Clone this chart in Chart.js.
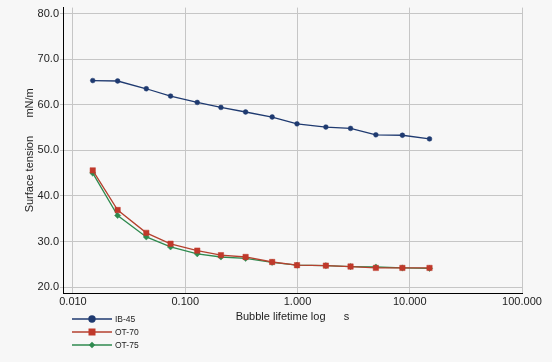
<!DOCTYPE html>
<html>
<head>
<meta charset="utf-8">
<script src="https://cdn.jsdelivr.net/npm/chart.js@4"></script>
<style>
  html, body { margin: 0; padding: 0; background: #f7f7f7; }
  #wrap { width: 552px; height: 362px; }
</style>
</head>
<body>
<div id="wrap"><canvas id="tensionChart" width="552" height="362"></canvas></div>
<script>
// Bubble lifetime (s) and surface tension (mN/m)
const lifetimes = [0.015, 0.025, 0.045, 0.074, 0.128, 0.208, 0.345, 0.595, 0.99, 1.79, 2.97, 4.99, 8.6, 15.0];
const ib45 = [65.3, 65.2, 63.5, 61.9, 60.5, 59.4, 58.4, 57.3, 55.8, 55.1, 54.8, 53.4, 53.3, 52.5];
const ot70 = [45.6, 36.9, 31.9, 29.5, 28.0, 27.0, 26.6, 25.5, 24.8, 24.7, 24.5, 24.2, 24.2, 24.2];
const ot75 = [45.0, 35.7, 31.0, 28.8, 27.3, 26.6, 26.3, 25.4, 24.8, 24.7, 24.5, 24.4, 24.2, 24.1];

const xTicks = [0.01, 0.1, 1, 10, 100];
const yTicks = [20, 30, 40, 50, 60, 70, 80];

const FONT = "'Liberation Sans', Arial, sans-serif";

function points(values) {
    return values.map((v, i) => ({ x: lifetimes[i], y: v }));
}

// legend drawn as a vertical list under the plot, like the original
const sideLegend = {
    id: 'sideLegend',
    afterDraw(chart) {
        const ctx = chart.ctx;
        ctx.save();
        chart.data.datasets.forEach((ds, i) => {
            const y = 319 + i * 13;
            ctx.strokeStyle = ds.borderColor;
            ctx.lineWidth = 1.5;
            ctx.beginPath();
            ctx.moveTo(72, y);
            ctx.lineTo(112, y);
            ctx.stroke();
            ctx.fillStyle = ds.pointBackgroundColor;
            ctx.beginPath();
            if (ds.pointStyle === 'circle') {
                ctx.arc(92, y, 3.7, 0, Math.PI * 2);
            } else if (ds.pointStyle === 'rect') {
                ctx.rect(88.5, y - 3.5, 7, 7);
            } else {
                ctx.moveTo(92, y - 3.2);
                ctx.lineTo(95.2, y);
                ctx.lineTo(92, y + 3.2);
                ctx.lineTo(88.8, y);
                ctx.closePath();
            }
            ctx.fill();
            ctx.fillStyle = '#222';
            ctx.font = '8.5px ' + FONT;
            ctx.textBaseline = 'middle';
            ctx.textAlign = 'left';
            ctx.fillText(ds.label, 115, y + 0.5);
        });
        ctx.restore();
    }
};

document.addEventListener('DOMContentLoaded', function() {
    const ctx = document.getElementById('tensionChart').getContext('2d');
    new Chart(ctx, {
        type: 'line',
        data: {
            datasets: [
                {
                    label: 'IB-45',
                    data: points(ib45),
                    borderColor: '#1f3a70',
                    backgroundColor: '#1f3a70',
                    pointBackgroundColor: '#1f3a70',
                    pointBorderColor: '#1f3a70',
                    pointStyle: 'circle',
                    pointRadius: 2.4,
                    pointBorderWidth: 0.5,
                    borderWidth: 1.3
                },
                {
                    label: 'OT-70',
                    data: points(ot70),
                    borderColor: '#b5412f',
                    backgroundColor: '#c0392b',
                    pointBackgroundColor: '#c0392b',
                    pointBorderColor: '#c0392b',
                    pointStyle: 'rect',
                    pointRadius: 3.8,
                    pointBorderWidth: 0.5,
                    borderWidth: 1.3
                },
                {
                    label: 'OT-75',
                    data: points(ot75),
                    borderColor: '#2f8a4f',
                    backgroundColor: '#2f8a4f',
                    pointBackgroundColor: '#2f8a4f',
                    pointBorderColor: '#2f8a4f',
                    pointStyle: 'rectRot',
                    pointRadius: 3.1,
                    pointBorderWidth: 0.5,
                    borderWidth: 1.3
                }
            ]
        },
        options: {
            responsive: false,
            animation: false,
            layout: { padding: { top: 3, right: 30, bottom: 0, left: 0 } },
            plugins: {
                legend: { display: false },
                tooltip: { enabled: false }
            },
            scales: {
                x: {
                    type: 'logarithmic',
                    min: 0.00815,
                    max: 100,
                    afterBuildTicks: axis => { axis.ticks = xTicks.map(v => ({ value: v })); },
                    afterFit: axis => { axis.height = 69; },
                    ticks: {
                        autoSkip: false,
                        maxRotation: 0,
                        padding: 2,
                        color: '#222',
                        font: { family: FONT, size: 11 },
                        callback: v => Number(v).toFixed(3)
                    },
                    grid: { color: '#c6c6c6', drawTicks: false },
                    border: { color: '#000', width: 1 },
                    title: {
                        display: true,
                        text: 'Bubble lifetime log      s',
                        color: '#222',
                        font: { family: FONT, size: 11 },
                        padding: { top: 0, bottom: 38 }
                    }
                },
                y: {
                    min: 18.7,
                    max: 81.3,
                    afterBuildTicks: axis => { axis.ticks = yTicks.map(v => ({ value: v })); },
                    afterFit: axis => { axis.width = 63; },
                    ticks: {
                        padding: 1,
                        color: '#222',
                        font: { family: FONT, size: 11 },
                        callback: v => Number(v).toFixed(1)
                    },
                    grid: { color: '#c6c6c6', tickLength: 3 },
                    border: { color: '#000', width: 1 },
                    title: {
                        display: true,
                        text: 'Surface tension      mN/m',
                        color: '#222',
                        font: { family: FONT, size: 11 },
                        padding: { top: 23, bottom: 0 }
                    }
                }
            }
        },
        plugins: [sideLegend]
    });
});
</script>
</body>
</html>
